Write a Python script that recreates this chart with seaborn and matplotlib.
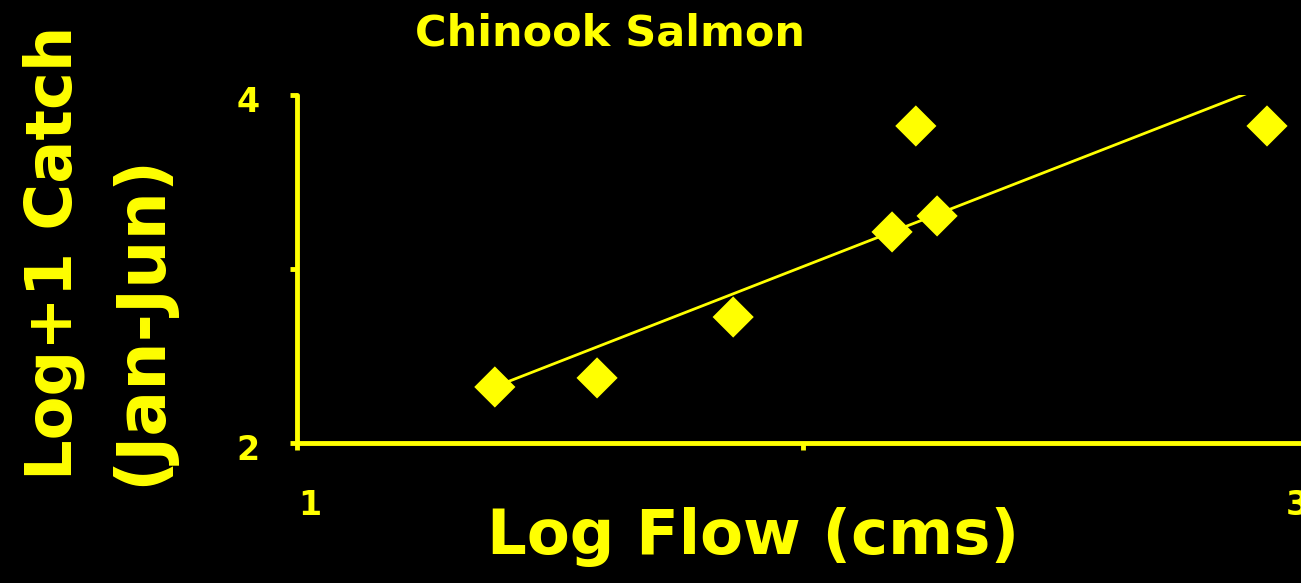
import matplotlib
matplotlib.use("Agg")
import matplotlib.pyplot as plt
import matplotlib.transforms as mtrans
import seaborn as sns
import pandas as pd

# Data
log_flow = [1.391, 1.593, 1.862, 2.176, 2.223, 2.265, 2.917]
log_catch = [2.322, 2.374, 2.724, 3.213, 3.822, 3.305, 3.822]
x_ticks = [1, 2, 3]
x_tick_labels = ["1", "", "3"]
y_ticks = [2, 3, 4]
y_tick_labels = ["2", "", "4"]
title = "Chinook Salmon"
x_label = "Log Flow (cms)"
y_label_lines = ["Log+1 Catch", "(Jan-Jun)"]

YEL = "#ffff00"
sns.set_theme(style="dark")
plt.rcParams["font.family"] = ["DejaVu Sans"]
plt.rcParams["font.weight"] = "bold"

df = pd.DataFrame({"flow": log_flow, "catch": log_catch})

W, H = 1301, 583
fig = plt.figure(figsize=(W / 100, H / 100), dpi=100, facecolor="black")
ax = fig.add_axes([297 / W, (H - 443) / H, 1012 / W, 348 / H])
ax.set_facecolor("black")

sns.regplot(data=df, x="flow", y="catch", scatter=False, ci=None, truncate=True,
            line_kws=dict(color=YEL, lw=2.0, solid_capstyle="round"), ax=ax)
sns.scatterplot(data=df, x="flow", y="catch", marker="D", s=440, color=YEL,
                edgecolor="none", linewidth=0, ax=ax, zorder=5, clip_on=False)

ax.set_xlim(1, 3)
ax.set_ylim(2, 4)
ax.grid(False)
for s in ["top", "right"]:
    ax.spines[s].set_visible(False)
for s in ["left", "bottom"]:
    ax.spines[s].set_color(YEL)
    ax.spines[s].set_linewidth(3.5)
    ax.spines[s].set_capstyle("round")

ax.set_xticks(x_ticks)
ax.set_xticklabels(x_tick_labels)
ax.set_yticks(y_ticks)
ax.set_yticklabels(y_tick_labels)
ax.tick_params(axis="both", colors=YEL, length=5, width=3.5, direction="out",
               labelsize=24, bottom=True, left=True)
ax.tick_params(axis="x", pad=28)
ax.tick_params(axis="y", pad=22)
for lbl in ax.get_xticklabels() + ax.get_yticklabels():
    lbl.set_fontweight("bold")
# shift x tick labels slightly as in the reference
xl = ax.get_xticklabels()
xl[0].set_transform(xl[0].get_transform() + mtrans.ScaledTranslation(13 / 100, 0, fig.dpi_scale_trans))
xl[2].set_transform(xl[2].get_transform() + mtrans.ScaledTranslation(-12 / 100, 0, fig.dpi_scale_trans))
for lbl in ax.get_yticklabels():
    lbl.set_transform(lbl.get_transform() + mtrans.ScaledTranslation(0, -4 / 100, fig.dpi_scale_trans))
ax.set_xlabel("")
ax.set_ylabel("")

fig.text(610 / W, 1 - 33 / H, title, color=YEL, fontsize=31, fontweight="bold",
         ha="center", va="center")
fig.text(753 / W, 1 - 537 / H, x_label, color=YEL, fontsize=45, fontweight="bold",
         ha="center", va="center")
fig.text(54 / W, 1 - 480 / H, y_label_lines[0], color=YEL, fontsize=46,
         fontweight="bold", rotation=90, ha="center", va="bottom")
fig.text(141 / W, 1 - 486 / H, y_label_lines[1], color=YEL, fontsize=49,
         fontweight="bold", rotation=90, ha="center", va="bottom")

fig.savefig("out.png", dpi=100, facecolor="black")
